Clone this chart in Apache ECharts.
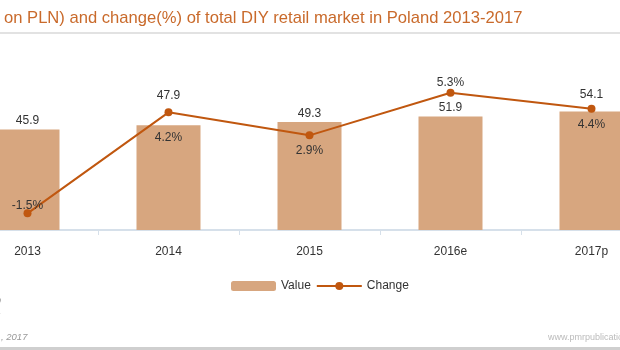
<!DOCTYPE html>
<html><head><meta charset="utf-8">
<script src="https://cdn.jsdelivr.net/npm/echarts@6/dist/echarts.min.js"></script>
<style>html,body{margin:0;padding:0;background:#fff}#c{width:620px;height:350px}</style>
</head><body><div id="c"></div>
<script>
const categories = ['2013', '2014', '2015', '2016e', '2017p'];
const valueData = [45.9, 47.9, 49.3, 51.9, 54.1];
const changeData = [-1.5, 4.2, 2.9, 5.3, 4.4];

// label placement (styling, not data)
const barLabelOffsetY = [0, -20, 1, 0, -8];
const lineLabelOffsetY = [-8, 25, 15, -10, 16];

const chart = echarts.init(document.getElementById('c'), null, {renderer: 'canvas'});
const font = 'Liberation Sans, Arial, Helvetica, sans-serif';
chart.setOption({
  animation: false,
  textStyle: {fontFamily: font},
  title: {
    text: 'on PLN) and change(%) of total DIY retail market in Poland 2013-2017',
    left: -1, top: 5,
    textStyle: {color: '#C96A2B', fontSize: 16.6, fontWeight: 'normal', fontFamily: font}
  },
  legend: {
    left: 226, top: 275,
    itemWidth: 45, itemHeight: 10, itemGap: 5,
    textStyle: {fontSize: 12, color: '#333', fontFamily: font},
    data: ['Value', 'Change']
  },
  grid: {left: -43, right: -42, top: 79, bottom: 120, outerBoundsMode: 'none', containLabel: false},
  xAxis: {
    type: 'category', data: categories,
    axisLine: {lineStyle: {color: '#D6E0EA', width: 2}},
    axisTick: {show: true, length: 5, lineStyle: {color: '#D6E0EA', width: 1}},
    axisLabel: {color: '#333', fontSize: 12, margin: 16, fontFamily: font}
  },
  yAxis: [
    {type: 'value', min: 0, max: 69, show: false, splitLine: {show: false}},
    {type: 'value', min: -2.44, max: 6.08, show: false, splitLine: {show: false}}
  ],
  series: [
    {
      name: 'Value', type: 'bar', barWidth: 64,
      itemStyle: {color: '#D7A67F'},
      data: valueData.map((v, i) => ({
        value: v,
        label: {show: true, position: 'top', distance: 3, offset: [0, barLabelOffsetY[i]],
                color: '#333', fontSize: 12, fontFamily: font}
      }))
    },
    {
      name: 'Change', type: 'line', yAxisIndex: 1,
      symbol: 'circle', symbolSize: 8,
      lineStyle: {color: '#C0570F', width: 2},
      itemStyle: {color: '#C0570F'},
      data: changeData.map((v, i) => ({
        value: v,
        label: {show: true, position: 'inside', offset: [0, lineLabelOffsetY[i]],
                formatter: p => p.value.toFixed(1) + '%',
                color: '#333', fontSize: 12, fontFamily: font}
      }))
    }
  ],
  graphic: [
    {type: 'rect', shape: {x: 0, y: 32, width: 620, height: 2}, style: {fill: '#E2E2E2'}, silent: true},
    {type: 'rect', shape: {x: 0, y: 347, width: 620, height: 3}, style: {fill: '#CFCFCF'}, silent: true},
    {type: 'text', x: 1, y: 332, style: {text: ', 2017', fill: '#999', font: 'italic 9.5px ' + font}},
    {type: 'text', x: -4, y: 295, style: {text: 'o', fill: '#aaa', font: 'italic 9.5px ' + font}},
    {type: 'text', x: -2, y: 310, style: {text: ':', fill: '#aaa', font: 'italic 9.5px ' + font}},
    {type: 'text', x: 548, y: 333, style: {text: 'www.pmrpublications.com', fill: '#BBBBBB', font: '9px ' + font}}
  ]
});
</script>
</body></html>
